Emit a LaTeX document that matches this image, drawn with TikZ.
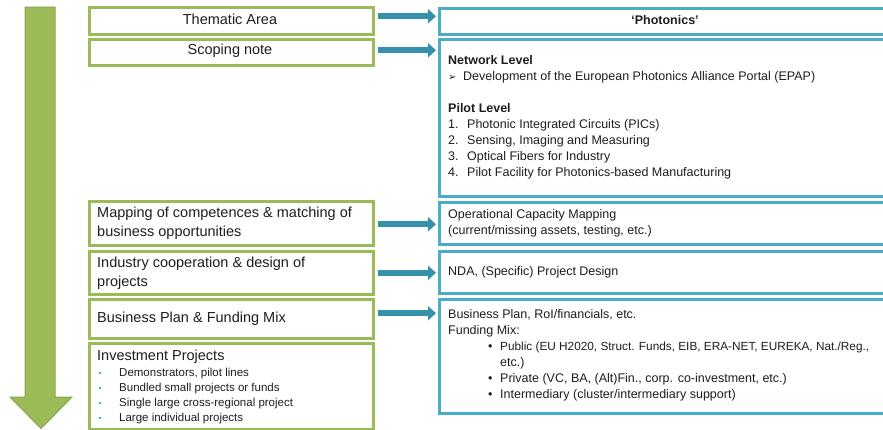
\documentclass[tikz,border=0pt]{standalone}
\usepackage{fontspec}
\setmainfont{Liberation Sans}
\newfontfamily\djv{DejaVu Sans}
\usetikzlibrary{arrows.meta,calc}
\definecolor{lgreen}{HTML}{9BBB59}
\definecolor{dgreen}{HTML}{86A64A}
\definecolor{raqua}{HTML}{4BACC6}
\definecolor{tealc}{HTML}{3592AA}
\definecolor{txt}{HTML}{1E1E1E}
\newcommand{\bsq}{\makebox[22pt][l]{\hspace{1.5pt}\textcolor{raqua}{\rule[2.5pt]{2.3pt}{2.3pt}}}}
\newcommand{\bdot}{\makebox[12pt][l]{\textbullet}}
\begin{document}
\begin{tikzpicture}[x=1pt,y=-1pt,
  lbox/.style={draw=lgreen, line width=2.5pt, fill=white, minimum width=284pt, inner sep=0pt, anchor=north west},
  rbox/.style={draw=raqua, line width=2.5pt, fill=white, minimum width=480pt, inner sep=0pt, anchor=north west},
  ltext/.style={font=\fontsize{14.5}{19}\selectfont, text=txt, align=left, inner sep=0pt, anchor=west},
  stext/.style={font=\fontsize{11.5}{15}\selectfont, text=txt, align=left, inner sep=0pt, anchor=west},
  rtext/.style={font=\fontsize{12.5}{16}\selectfont, text=txt, align=left, inner sep=0pt, anchor=west},
  conn/.style={draw=tealc, line width=6pt, -{Triangle[length=8pt,width=14pt]}, shorten <=3pt, shorten >=2pt}]
\useasboundingbox (0,0) rectangle (883,429);
\clip (0,0) rectangle (883,429);
% big green arrow
\path[fill=lgreen, draw=dgreen, line width=1pt]
  (25,7) -- (55,7) -- (55,397) -- (72,397) -- (41,428.5) -- (10,397) -- (25,397) -- cycle;
% left boxes
\node[lbox, minimum height=27pt] (ta) at (88,6) {};
\node[lbox, minimum height=26pt] (sn) at (88,38) {};
\node[lbox, minimum height=44pt] (mp) at (88,200) {};
\node[lbox, minimum height=43pt] (ic) at (88,250) {};
\node[lbox, minimum height=39pt] (bp) at (88,298) {};
\node[lbox, minimum height=86pt] (ip) at (88,342) {};
% right boxes
\node[rbox, minimum height=26pt] (ph) at (438,7) {};
\node[rbox, minimum height=157pt] (sc) at (438,38) {};
\node[rbox, minimum height=42pt] (oc) at (438,201) {};
\node[rbox, minimum height=42pt] (nd) at (438,250) {};
\node[rbox, minimum height=114pt] (bf) at (438,298) {};
% left texts
\node[ltext, anchor=center] (tat) at (230,19.5) {Thematic Area};
\node[ltext, anchor=center] (snt) at (230,51) {Scoping note};
\node[ltext] (mpt) at ([xshift=9pt]mp.west) {Mapping of competences \& matching of\\business opportunities};
\node[ltext] (ict) at ([xshift=9pt]ic.west) {Industry cooperation \& design of\\projects};
\node[ltext] (bpt) at ([xshift=9pt]bp.west) {Business Plan \& Funding Mix};
\node[ltext] (ipt) at (97,357) {Investment Projects};
\node[stext] (ipl) at (97,396) {\bsq Demonstrators, pilot lines\\\bsq Bundled small projects or funds\\\bsq Single large cross-regional project\\\bsq Large individual projects};
% right texts
\node[rtext, anchor=center, font=\fontsize{12.5}{16}\selectfont\bfseries] (pht) at (665,20) {`Photonics'};
\node[rtext] (sct) at ([xshift=10pt]sc.west) {\textbf{Network Level}\\
\makebox[15pt][l]{\djv\fontsize{10}{16}\selectfont ➢}Development of the European Photonics Alliance Portal (EPAP)\\
\mbox{}\\
\textbf{Pilot Level}\\
\makebox[19pt][l]{1.}Photonic Integrated Circuits (PICs)\\
\makebox[19pt][l]{2.}Sensing, Imaging and Measuring\\
\makebox[19pt][l]{3.}Optical Fibers for Industry\\
\makebox[19pt][l]{4.}Pilot Facility for Photonics-based Manufacturing};
\node[rtext] (oct) at ([xshift=10pt]oc.west) {Operational Capacity Mapping\\(current/missing assets, testing, etc.)};
\node[rtext] (ndt) at ([xshift=10pt]nd.west) {NDA, (Specific) Project Design};
\node[rtext] (bft) at ([xshift=10pt,yshift=1pt]bf.west) {Business Plan, RoI/financials, etc.\\
Funding Mix:\\
\hspace*{40pt}\bdot {\fontsize{11.8}{16}\selectfont Public (EU H2020, Struct. Funds, EIB, ERA-NET, EUREKA, Nat./Reg.,}\\
\hspace*{52pt}etc.)\\
\hspace*{40pt}\bdot Private (VC, BA, (Alt)Fin., corp. co-investment, etc.)\\
\hspace*{40pt}\bdot Intermediary (cluster/intermediary support)};
% connectors
\draw[conn] ($(ta.east)+(0,-4.5)$) -- ($(ta.east -| ph.west)+(0,-4.5)$);
\draw[conn] ($(sn.east)+(0,-2)$) -- ($(sn.east -| sc.west)+(0,-2)$);
\draw[conn] ($(mp.east)+(0,1)$) -- ($(mp.east -| oc.west)+(0,1)$);
\draw[conn] (ic.east) -- (ic.east -| nd.west);
\draw[conn] ($(bp.east)+(0,-5.5)$) -- ($(bp.east -| bf.west)+(0,-5.5)$);
\end{tikzpicture}
\end{document}
